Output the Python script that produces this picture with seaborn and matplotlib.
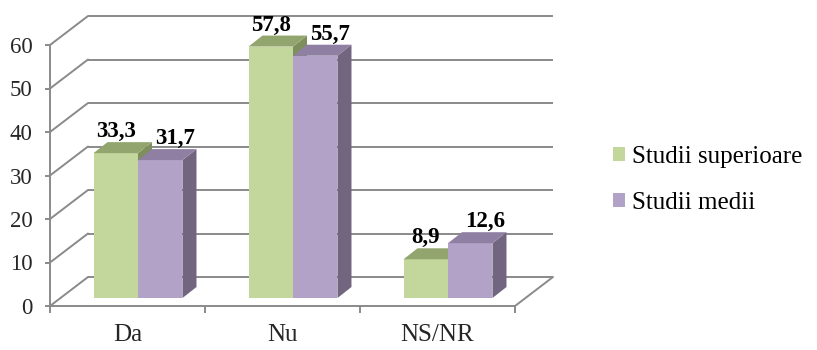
import matplotlib
matplotlib.use("Agg")
import matplotlib.pyplot as plt
from matplotlib.patches import Polygon, Patch
import pandas as pd
import seaborn as sns

# Survey answers by level of education (percent)
categories = ["Da", "Nu", "NS/NR"]
series = ["Studii superioare", "Studii medii"]
superioare = [33.3, 57.8, 8.9]
medii = [31.7, 55.7, 12.6]
y_ticks = [0, 10, 20, 30, 40, 50, 60]

front_colors = {"Studii superioare": "#C3D69B", "Studii medii": "#B2A2C7"}
top_colors = {"Studii superioare": "#93A56E", "Studii medii": "#8E7FA3"}
side_colors = {"Studii superioare": "#7E8F5C", "Studii medii": "#716580"}
grid_color = "#8A8A8A"

sns.set_theme(style="white")
plt.rcParams["font.family"] = ["Liberation Serif", "DejaVu Serif"]
plt.rcParams["text.color"] = "black"

W, H = 817, 350
fig = plt.figure(figsize=(W / 100, H / 100), dpi=100)
ax = fig.add_axes([50 / W, 44 / H, 465 / W, 261 / H])

# pixel -> data unit helpers for the pseudo-3D depth offsets
PX_X = 465 / 3.0
PX_Y = 261 / 60.0
def dx(px):
    return px / PX_X
def dy(px):
    return px / PX_Y

FX, FY = dx(38), dy(29)      # depth of the floor / side wall
BX, BY = dx(10.5), dy(8)     # where the bar fronts sit inside the box
DX, DY = dx(14), dy(11)      # depth of each bar

df = pd.DataFrame({
    "categorie": categories * 2,
    "grup": [series[0]] * len(categories) + [series[1]] * len(categories),
    "valoare": superioare + medii,
})

sns.barplot(data=df, x="categorie", y="valoare", hue="grup", hue_order=series,
            palette=front_colors, width=0.574, gap=0, saturation=1,
            errorbar=None, legend=False, linewidth=0, edgecolor="none", ax=ax)

ax.set_xlim(-0.5, 2.5)
ax.set_ylim(0, 60)

# back wall, left wall and floor of the box
lw = 1.4
for v in y_ticks:
    ax.plot([-0.5 + FX, 2.5 + FX], [v + FY, v + FY], color=grid_color, lw=lw,
            clip_on=False, zorder=1, solid_capstyle="butt")
    ax.plot([-0.5, -0.5 + FX], [v, v + FY], color=grid_color, lw=lw,
            clip_on=False, zorder=1)
ax.plot([2.5, 2.5 + FX], [0, FY], color=grid_color, lw=lw, clip_on=False, zorder=1)

# turn the flat bars into boxes
for k, (container, name) in enumerate(zip(ax.containers, series)):
    z = 3 + k
    for bar in container:
        h = bar.get_height()
        w = bar.get_width()
        x0 = bar.get_x() + BX
        bar.set_x(x0)
        bar.set_y(BY)
        bar.set_zorder(z)
        bar.set_clip_on(False)
        x1 = x0 + w
        y0 = BY
        y1 = BY + h
        side = Polygon([(x1, y0), (x1 + DX, y0 + DY), (x1 + DX, y1 + DY), (x1, y1)],
                       closed=True, facecolor=side_colors[name], edgecolor="none",
                       zorder=z + 0.1, clip_on=False)
        top = Polygon([(x0, y1), (x1, y1), (x1 + DX, y1 + DY), (x0 + DX, y1 + DY)],
                      closed=True, facecolor=top_colors[name], edgecolor="none",
                      zorder=z + 0.2, clip_on=False)
        ax.add_patch(side)
        ax.add_patch(top)
        shift = 0 if k == 0 else 10.8
        ax.annotate(f"{h:.1f}".replace(".", ","), xy=((x0 + x1) / 2, y1 + DY),
                    xytext=(shift, 3.6), textcoords="offset points",
                    ha="center", va="baseline", fontsize=16.5, fontweight="bold",
                    zorder=10, annotation_clip=False)

# axes styling
for s in ["top", "right"]:
    ax.spines[s].set_visible(False)
for s in ["left", "bottom"]:
    ax.spines[s].set_color(grid_color)
    ax.spines[s].set_linewidth(lw)
    ax.spines[s].set_zorder(2)

ax.set_yticks(y_ticks)
ax.set_yticklabels([str(v) for v in y_ticks])
ax.tick_params(axis="y", left=True, length=3.6, width=lw, color=grid_color,
               labelsize=16.5, pad=9)
ax.set_xticks(range(len(categories)))
ax.set_xticklabels(categories)
ax.set_xticks([-0.5, 0.5, 1.5, 2.5], minor=True)
ax.tick_params(axis="x", which="major", length=0, labelsize=18, pad=13)
ax.tick_params(axis="x", which="minor", bottom=True, length=5, width=lw,
               color=grid_color, direction="out")
ax.set_xlabel("")
ax.set_ylabel("")
ax.grid(False)
ax.set_facecolor("none")

handles = [Patch(facecolor=front_colors[s], edgecolor="none") for s in series]
fig.legend(handles, series, loc="center left", bbox_to_anchor=(613 / W, 1 - 180 / H),
           frameon=False, fontsize=18, handlelength=0.48, handleheight=0.5,
           handletextpad=0.3, labelspacing=0.95, borderpad=0, borderaxespad=0)

fig.savefig("out.png", dpi=100)
